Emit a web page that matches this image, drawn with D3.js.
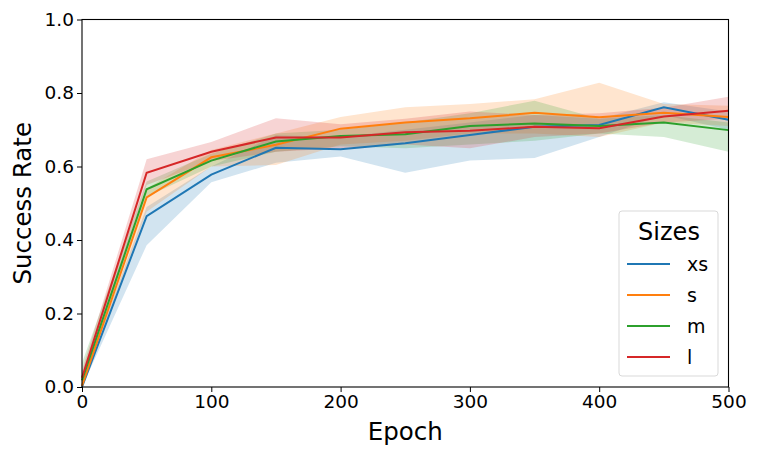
<!DOCTYPE html>
<html><head><meta charset="utf-8">
<script src="https://cdn.jsdelivr.net/npm/d3@7"></script>
<style>body{margin:0;background:#fff}svg{display:block;font-family:"DejaVu Sans",sans-serif}</style>
</head><body><svg id="c" width="761" height="457"></svg>
<script>
const epochs = [0,50,100,150,200,250,300,350,400,450,500];
const seriesNames = ["xs","s","m","l"];
const colors = ["#1f77b4","#ff7f0e","#2ca02c","#d62728"];
const xsMean = [0.0,0.465,0.578,0.651,0.647,0.663,0.686,0.708,0.713,0.761,0.727];
const xsLow  = [0.0,0.386,0.557,0.61,0.627,0.583,0.616,0.623,0.68,0.74,0.70];
const xsHigh = [0.01,0.49,0.60,0.685,0.68,0.70,0.72,0.74,0.73,0.775,0.75];
const sMean = [0.003,0.516,0.625,0.659,0.703,0.720,0.731,0.746,0.734,0.746,0.735];
const sLow  = [0.0,0.477,0.60,0.604,0.66,0.67,0.69,0.69,0.68,0.72,0.71];
const sHigh = [0.01,0.54,0.645,0.69,0.735,0.761,0.77,0.783,0.828,0.77,0.765];
const mMean = [0.018,0.538,0.616,0.668,0.683,0.688,0.710,0.717,0.710,0.720,0.699];
const mLow  = [0.0,0.518,0.60,0.64,0.655,0.65,0.66,0.67,0.69,0.68,0.64];
const mHigh = [0.065,0.559,0.635,0.69,0.70,0.72,0.745,0.779,0.73,0.74,0.72];
const lMean = [0.025,0.583,0.640,0.679,0.679,0.693,0.697,0.708,0.704,0.736,0.752];
const lLow  = [0.005,0.55,0.615,0.64,0.65,0.66,0.65,0.68,0.69,0.72,0.73];
const lHigh = [0.045,0.620,0.667,0.731,0.715,0.73,0.75,0.74,0.745,0.76,0.79];
const xTicks = [0,100,200,300,400,500];
const yTicks = [0.0,0.2,0.4,0.6,0.8,1.0];

const means=[xsMean,sMean,mMean,lMean], lows=[xsLow,sLow,mLow,lLow], highs=[xsHigh,sHigh,mHigh,lHigh];
const svg=d3.select("#c");
const L=82,R=728.5,T=19.5,B=387;
const x=d3.scaleLinear().domain([0,500]).range([L,R]);
const y=d3.scaleLinear().domain([0,1]).range([B,T]);

const g=svg.append("g");
means.forEach((m,i)=>{
  const pts=epochs.map((e,j)=>({e,m:m[j],lo:lows[i][j],hi:highs[i][j]}));
  g.append("path").attr("d",d3.area().x(d=>x(d.e)).y0(d=>y(d.lo)).y1(d=>y(d.hi))(pts))
   .attr("fill",colors[i]).attr("fill-opacity",0.2).attr("stroke","none");
});
means.forEach((m,i)=>{
  const pts=epochs.map((e,j)=>({e,m:m[j]}));
  g.append("path").attr("d",d3.line().x(d=>x(d.e)).y(d=>y(d.m))(pts))
   .attr("fill","none").attr("stroke",colors[i]).attr("stroke-width",2);
});

const xa=svg.append("g").attr("transform",`translate(0,${B})`)
 .call(d3.axisBottom(x).tickValues(xTicks).tickFormat(d3.format("d")).tickSize(5).tickPadding(3));
const ya=svg.append("g").attr("transform",`translate(${L},0)`)
 .call(d3.axisLeft(y).tickValues(yTicks).tickFormat(d3.format(".1f")).tickSize(5).tickPadding(3));
[xa,ya].forEach(a=>{a.select(".domain").remove();a.selectAll("text").attr("font-size",18.5).attr("fill","#000").attr("font-family","DejaVu Sans");a.selectAll("line").attr("stroke","#000");});
svg.append("rect").attr("x",L).attr("y",T).attr("width",R-L).attr("height",B-T)
 .attr("fill","none").attr("stroke","#000").attr("stroke-width",1.1);

svg.append("text").attr("x",(L+R)/2).attr("y",440).attr("text-anchor","middle").attr("font-size",24.5).text("Epoch");
svg.append("text").attr("transform",`translate(31,${(T+B)/2}) rotate(-90)`).attr("text-anchor","middle").attr("font-size",24.5).text("Success Rate");

const lg=svg.append("g");
lg.append("rect").attr("x",619).attr("y",211).attr("width",99).attr("height",165).attr("rx",3)
 .attr("fill","#fff").attr("fill-opacity",0.8).attr("stroke","#d9d9d9");
lg.append("text").attr("x",669).attr("y",240).attr("text-anchor","middle").attr("font-size",24).text("Sizes");
seriesNames.forEach((n,i)=>{
  const yy=264+i*31;
  lg.append("line").attr("x1",627).attr("x2",670).attr("y1",yy).attr("y2",yy).attr("stroke",colors[i]).attr("stroke-width",2);
  lg.append("text").attr("x",687).attr("y",yy+6.5).attr("font-size",19).text(n);
});
</script></body></html>
